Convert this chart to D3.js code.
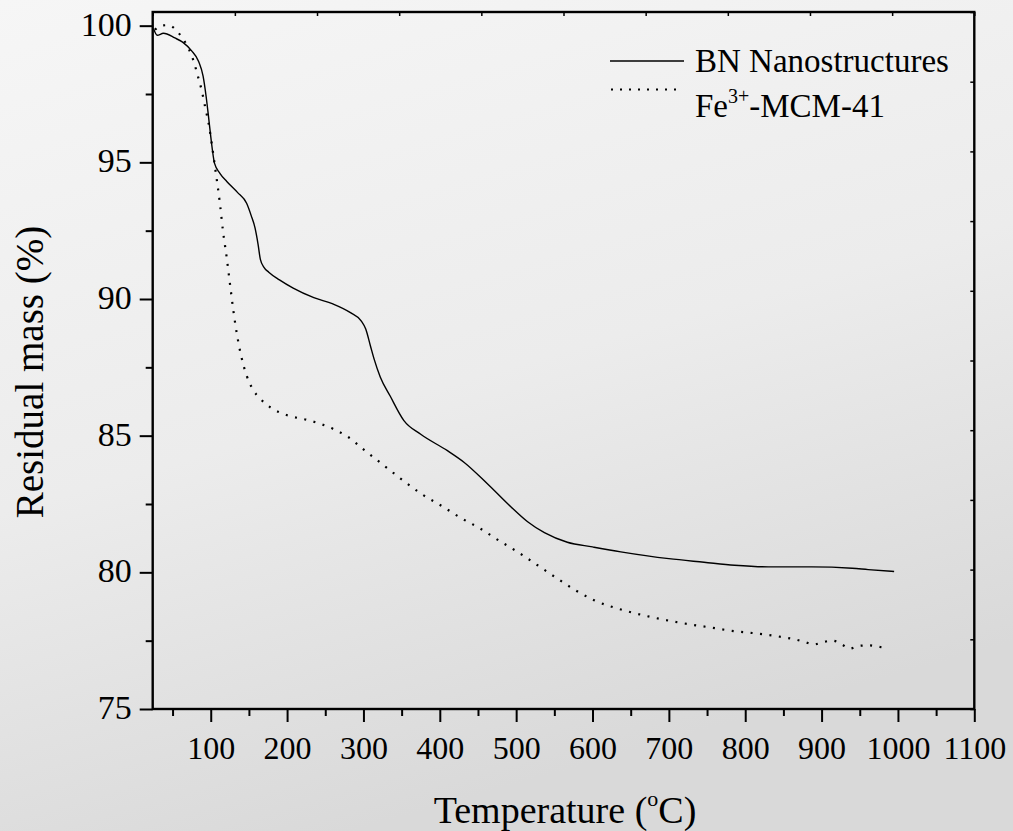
<!DOCTYPE html>
<html>
<head>
<meta charset="utf-8">
<script src="https://cdn.jsdelivr.net/npm/d3@7"></script>
<style>
  html, body { margin: 0; padding: 0; }
  body { width: 1013px; height: 831px; overflow: hidden; }
  svg text { font-family: "Liberation Serif", "Times New Roman", serif; fill: #000; }
</style>
</head>
<body>
<svg id="chart" width="1013" height="831"></svg>
<script>
// Thermogravimetric curves: residual mass (%) vs temperature (°C)
const bnTemp = [25, 30, 38, 53, 64, 75, 84, 90, 94, 97, 100, 105, 112, 121, 135, 147, 153, 158, 162, 165, 170, 176, 190, 208, 235, 260, 283, 297, 303, 309, 314, 322, 335, 353, 375, 410, 432, 462, 493, 515, 537, 567, 600, 637, 700, 746, 786, 830, 887, 940, 961, 995];
const bnMass = [99.9, 99.65, 99.72, 99.55, 99.38, 99.08, 98.7, 98.15, 97.4, 96.7, 95.95, 94.96, 94.6, 94.3, 93.9, 93.5, 93.05, 92.6, 92.0, 91.45, 91.15, 90.98, 90.7, 90.4, 90.05, 89.82, 89.5, 89.2, 88.9, 88.3, 87.8, 87.15, 86.45, 85.55, 85.05, 84.45, 84.02, 83.25, 82.4, 81.85, 81.45, 81.1, 80.93, 80.75, 80.5, 80.37, 80.26, 80.2, 80.2, 80.15, 80.1, 80.03];

const feTemp = [27, 35, 45, 57, 66, 77, 84, 88, 92.5, 98, 103, 106.5, 112, 116, 121, 125, 130, 135, 140, 147, 155, 165, 180, 200, 230, 260, 280, 300, 325, 350, 377, 403, 427, 453, 477, 504, 528, 554, 578, 602, 641, 676, 716, 764, 777, 816, 851, 865, 878, 890, 902, 915, 926, 937, 949, 962, 974, 986];
const feMass = [99.85, 100.0, 100.02, 99.76, 99.42, 98.75, 98.07, 97.65, 97.05, 96.3, 95.35, 94.65, 93.5, 92.5, 91.5, 90.6, 89.5, 88.6, 87.9, 87.2, 86.7, 86.35, 86.0, 85.75, 85.55, 85.25, 84.95, 84.5, 83.95, 83.4, 82.85, 82.42, 82.0, 81.6, 81.17, 80.71, 80.26, 79.77, 79.34, 78.98, 78.61, 78.37, 78.15, 77.94, 77.88, 77.76, 77.62, 77.55, 77.45, 77.36, 77.45, 77.5, 77.37, 77.21, 77.31, 77.33, 77.28, 77.22];

const xMajorTicks = [100, 200, 300, 400, 500, 600, 700, 800, 900, 1000, 1100];
const xMinorTicks = [50, 150, 250, 350, 450, 550, 650, 750, 850, 950, 1050];
const yMajorTicks = [75, 80, 85, 90, 95, 100];
const yMinorTicks = [77.5, 82.5, 87.5, 92.5, 97.5];

const seriesNames = ["BN Nanostructures", "Fe", "3+", "-MCM-41"];
const xTitle = ["Temperature (", "o", "C)"];
const yTitle = "Residual mass (%)";

const svg = d3.select("#chart");

// background: soft grey paper
const defs = svg.append("defs");
const grad = defs.append("linearGradient").attr("id", "bg")
  .attr("x1", "0").attr("y1", "0").attr("x2", "0.35").attr("y2", "1");
grad.append("stop").attr("offset", "0").attr("stop-color", "#f6f6f6");
grad.append("stop").attr("offset", "0.55").attr("stop-color", "#ececec");
grad.append("stop").attr("offset", "1").attr("stop-color", "#d9d9d9");
svg.append("rect").attr("width", 1013).attr("height", 831).attr("fill", "url(#bg)");

const L = 152.7, R = 974.3, T = 12, B = 709;
const x = d3.scaleLinear().domain([24, 1100]).range([L, R]);
const y = d3.scaleLinear().domain([75, 100.5]).range([B, T]);

// mirror axes (top / right) carry short inner ticks on their own 10-step scale
const xTop = d3.scaleLinear().domain([0, 10]).range([L, R]);
const yRight = d3.scaleLinear().domain([0, 10]).range([B, T]);

const axisStyle = g => {
  g.selectAll(".domain").remove();
  g.selectAll(".tick line").attr("stroke", "#000").attr("stroke-width", 2);
};

// bottom axis
svg.append("g").attr("transform", `translate(0,${B})`)
  .call(d3.axisBottom(x).tickValues(xMinorTicks).tickSize(7).tickFormat(""))
  .call(axisStyle);
svg.append("g").attr("transform", `translate(0,${B})`)
  .call(d3.axisBottom(x).tickValues(xMajorTicks).tickSize(13).tickPadding(14).tickFormat(d3.format("d")))
  .call(axisStyle)
  .call(g => g.selectAll(".tick text").attr("font-size", 32).attr("dy", "0.71em"));

// left axis
svg.append("g").attr("transform", `translate(${L},0)`)
  .call(d3.axisLeft(y).tickValues(yMinorTicks).tickSize(7).tickFormat(""))
  .call(axisStyle);
svg.append("g").attr("transform", `translate(${L},0)`)
  .call(d3.axisLeft(y).tickValues(yMajorTicks).tickSize(13).tickPadding(8).tickFormat(d3.format("d")))
  .call(axisStyle)
  .call(g => g.selectAll(".tick text").attr("font-size", 34).attr("dy", "0.28em"));

// top / right inner ticks
svg.append("g").attr("transform", `translate(0,${T})`)
  .call(d3.axisBottom(xTop).ticks(10).tickSize(4).tickFormat(""))
  .call(axisStyle)
  .call(g => g.selectAll(".tick line").attr("stroke-width", 1.5));
svg.append("g").attr("transform", `translate(${R},0)`)
  .call(d3.axisLeft(yRight).ticks(10).tickSize(4).tickFormat(""))
  .call(axisStyle)
  .call(g => g.selectAll(".tick line").attr("stroke-width", 1.5));

// frame
svg.append("rect").attr("x", L).attr("y", T).attr("width", R - L).attr("height", B - T)
  .attr("fill", "none").attr("stroke", "#000").attr("stroke-width", 2.4);

// curves
const line = d3.line().x(d => x(d[0])).y(d => y(d[1])).curve(d3.curveMonotoneX);
const bn = bnTemp.map((t, i) => [t, bnMass[i]]);
const fe = feTemp.map((t, i) => [t, feMass[i]]);

svg.append("path").datum(bn).attr("d", line)
  .attr("fill", "none").attr("stroke", "#000").attr("stroke-width", 1.4);
svg.append("path").datum(fe).attr("d", line)
  .attr("fill", "none").attr("stroke", "#000").attr("stroke-width", 2.2)
  .attr("stroke-dasharray", "2,7.5");

// legend
const lg = svg.append("g");
lg.append("line").attr("x1", 610).attr("x2", 684).attr("y1", 61).attr("y2", 61)
  .attr("stroke", "#000").attr("stroke-width", 1.4);
lg.append("text").attr("x", 695).attr("y", 72).attr("font-size", 33).text(seriesNames[0]);
lg.append("line").attr("x1", 611).attr("x2", 680).attr("y1", 89.5).attr("y2", 89.5)
  .attr("stroke", "#000").attr("stroke-width", 2).attr("stroke-dasharray", "2,7");
const feText = lg.append("text").attr("x", 695).attr("y", 117).attr("font-size", 33);
feText.append("tspan").text(seriesNames[1]);
feText.append("tspan").attr("font-size", 20).attr("dy", -14).text(seriesNames[2]);
feText.append("tspan").attr("dy", 14).text(seriesNames[3]);

// axis titles
const xt = svg.append("text").attr("x", 565).attr("y", 823).attr("text-anchor", "middle").attr("font-size", 38);
xt.append("tspan").text(xTitle[0]);
xt.append("tspan").attr("font-size", 22).attr("dy", -17).text(xTitle[1]);
xt.append("tspan").attr("dy", 17).text(xTitle[2]);

svg.append("text").attr("transform", "translate(43,372) rotate(-90)")
  .attr("text-anchor", "middle").attr("font-size", 39).text(yTitle);
</script>
</body>
</html>
